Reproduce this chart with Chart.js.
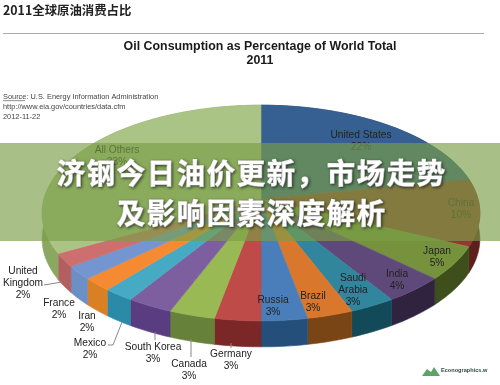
<!DOCTYPE html>
<html>
<head>
<meta charset="utf-8">
<title>Oil Consumption</title>
<script src="https://cdn.jsdelivr.net/npm/chart.js@4/dist/chart.umd.min.js"></script>
<style>
  html, body { margin: 0; padding: 0; background: #fff; }
  canvas { display: block; }
</style>
</head>
<body>
<canvas id="myChart" width="500" height="385"></canvas>
<script>
const categories = ['United States', 'China', 'Japan', 'India', 'Saudi Arabia', 'Brazil', 'Russia', 'Germany', 'Canada', 'South Korea', 'Mexico', 'Iran', 'France', 'United Kingdom', 'All Others'];
const shares = [22, 10, 5, 4, 3, 3, 3, 3, 3, 3, 2, 2, 2, 2, 33];
const topColors = ['#366092', '#953735', '#76923c', '#5f497a', '#31859c', '#d9772c', '#4a7ebb', '#be4b48', '#98b954', '#7d5fa0', '#46aac5', '#f68a32', '#7395d0', '#cd6f6e', '#a9c484'];
const sideColors = ['#243f60', '#5e1f1d', '#3e4f1c', '#30233f', '#124a5a', '#7a4515', '#234f7a', '#7c2727', '#66813a', '#5a3d80', '#2a8aa8', '#d98025', '#6c8fc5', '#b35f60', '#8aa860'];

// where each pie label sits in the picture
const labelSpots = {
    'United States': { x: 361, y: 135 },
    'China': { x: 461, y: 203 },
    'Japan': { x: 437, y: 251 },
    'India': { x: 397, y: 274 },
    'Saudi Arabia': { x: 353, y: 278, wrap: true },
    'Brazil': { x: 313, y: 296 },
    'Russia': { x: 273, y: 300 },
    'Germany': { x: 231, y: 354 },
    'Canada': { x: 189, y: 364 },
    'South Korea': { x: 153, y: 347 },
    'Mexico': { x: 90, y: 343 },
    'Iran': { x: 87, y: 316 },
    'France': { x: 59, y: 303 },
    'United Kingdom': { x: 23, y: 271, wrap: true },
    'All Others': { x: 117, y: 150 },
};
const leaderLines = [
    [[44, 285], [62, 282]],
    [[108, 345], [113, 345], [122, 322]],
    [[155, 332], [155, 340]],
    [[191, 339], [191, 357]],
    [[231, 343], [231, 348]],
];

// perspective of the tilted disc
const pieX = 261, pieY = 199, pieA = 217, pieB = 106, pieTilt = 0.13, pieDepth = 26;

function project(angle) {
    const u = Math.cos(angle), v = Math.sin(angle);
    const w = 1 - pieTilt * v;
    return [pieX + pieA * u / w, pieY + pieB * v / w];
}

function rim(arc) {
    const steps = Math.max(2, Math.ceil((arc.endAngle - arc.startAngle) * 40));
    const pts = [];
    for (let i = 0; i <= steps; i++) {
        pts.push(project(arc.startAngle + (arc.endAngle - arc.startAngle) * i / steps));
    }
    return pts;
}

const flatPie = {
    id: 'flatPie',
    beforeDatasetDraw(chart, args) {
        const ctx = chart.ctx;
        const arcs = args.meta.data;
        ctx.save();
        ctx.lineWidth = 0.6;
        ctx.lineJoin = 'round';
        // side wall
        arcs.forEach((arc, i) => {
            const pts = rim(arc);
            ctx.beginPath();
            pts.forEach((p, n) => n ? ctx.lineTo(p[0], p[1]) : ctx.moveTo(p[0], p[1]));
            pts.slice().reverse().forEach(p => ctx.lineTo(p[0], p[1] + pieDepth));
            ctx.closePath();
            ctx.fillStyle = ctx.strokeStyle = sideColors[i];
            ctx.fill();
            ctx.stroke();
        });
        // top face
        arcs.forEach((arc, i) => {
            const pts = rim(arc);
            ctx.beginPath();
            ctx.moveTo(pieX, pieY);
            pts.forEach(p => ctx.lineTo(p[0], p[1]));
            ctx.closePath();
            ctx.fillStyle = ctx.strokeStyle = arc.options.backgroundColor;
            ctx.fill();
            ctx.stroke();
        });
        ctx.restore();
        return false;
    },
    afterDatasetsDraw(chart) {
        const ctx = chart.ctx;
        ctx.save();
        ctx.strokeStyle = '#888';
        ctx.lineWidth = 1;
        leaderLines.forEach(pts => {
            ctx.beginPath();
            pts.forEach((p, i) => i ? ctx.lineTo(p[0], p[1]) : ctx.moveTo(p[0], p[1]));
            ctx.stroke();
        });
        ctx.font = '10.2px "Liberation Sans"';
        ctx.textAlign = 'center';
        ctx.textBaseline = 'middle';
        ctx.fillStyle = '#222';
        categories.forEach((name, i) => {
            const spot = labelSpots[name];
            const lines = spot.wrap ? name.split(' ') : [name];
            lines.push(shares[i] + '%');
            lines.forEach((line, n) => ctx.fillText(line, spot.x, spot.y + n * 12.3));
        });
        ctx.restore();
    },
    afterDraw(chart) {
        const ctx = chart.ctx;
        ctx.save();
        // page header
        ctx.textBaseline = 'middle';
        ctx.fillStyle = '#222';
        ctx.font = 'bold 12.4px "Noto Sans CJK SC"';
        ctx.fillText('2011全球原油消费占比', 3, 10);
        ctx.fillStyle = '#aaa';
        ctx.fillRect(3, 33, 481, 1);
        // source note
        ctx.fillStyle = '#444';
        ctx.font = '7.4px "Liberation Sans"';
        ctx.fillText('Source: U.S. Energy Information Administration', 3, 97);
        ctx.fillText('http://www.eia.gov/countries/data.cfm', 3, 107);
        ctx.fillText('2012-11-22', 3, 117);
        ctx.fillRect(3, 100.5, 22, 0.6);
        // logo
        ctx.fillStyle = '#5aa469';
        ctx.beginPath();
        ctx.moveTo(422, 376);
        ctx.lineTo(427, 369);
        ctx.lineTo(431, 372);
        ctx.lineTo(434, 367);
        ctx.lineTo(440, 376);
        ctx.closePath();
        ctx.fill();
        ctx.fillStyle = '#2c4a3a';
        ctx.font = 'bold 5.6px "Liberation Sans"';
        ctx.fillText('Econographics.w', 441, 370);
        // banner over the chart
        ctx.fillStyle = 'rgba(121, 158, 70, 0.65)';
        ctx.fillRect(0, 143, 500, 98);
        ctx.font = 'bold 28px "Noto Sans CJK SC"';
        ctx.textAlign = 'center';
        ctx.letterSpacing = '2px';
        ctx.lineJoin = 'round';
        ctx.lineWidth = 1.2;
        ctx.strokeStyle = '#fff';
        ctx.shadowColor = 'rgba(0, 0, 0, 0.55)';
        ctx.shadowBlur = 3;
        ctx.shadowOffsetX = 1;
        ctx.shadowOffsetY = 1;
        ctx.fillStyle = '#fff';
        ['济钢今日油价更新\uFF0C市场走势', '及影响因素深度解析'].forEach((line, i) => {
            ctx.strokeText(line, 252, 173 + i * 40);
            ctx.fillText(line, 252, 173 + i * 40);
        });
        ctx.restore();
    },
};

new Chart(document.getElementById('myChart'), {
    type: 'pie',
    data: {
        labels: categories,
        datasets: [{
            data: shares,
            backgroundColor: topColors,
            borderWidth: 0,
            clip: false,
        }],
    },
    options: {
        responsive: false,
        animation: false,
        layout: { padding: { left: 20, top: 35 } },
        plugins: {
            legend: { display: false },
            tooltip: { enabled: false },
            title: {
                display: true,
                text: ['Oil Consumption as Percentage of World Total', '2011'],
                color: '#1a1a1a',
                font: { family: '"Liberation Sans"', size: 12.4, weight: 'bold', lineHeight: 1.15 },
                padding: { top: 4, bottom: 6 },
            },
        },
    },
    plugins: [flatPie],
});
</script>
</body>
</html>
